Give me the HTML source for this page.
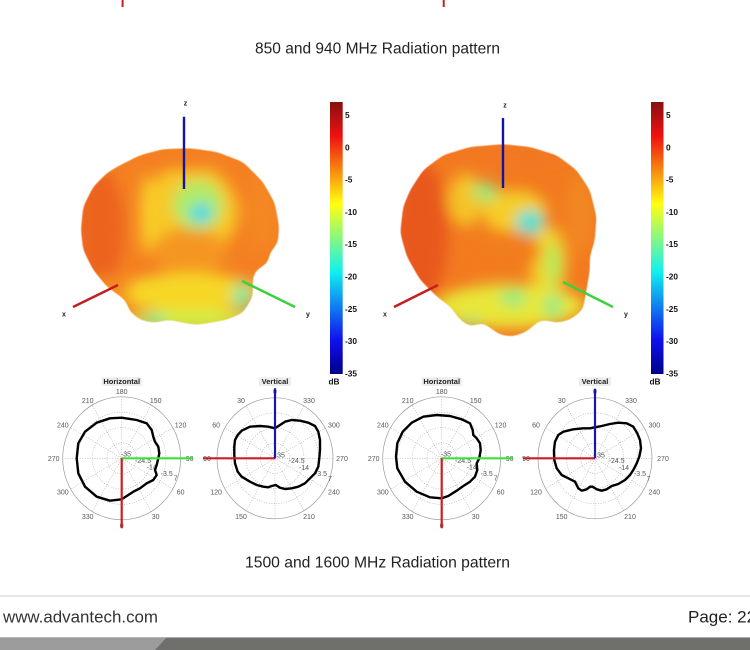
<!DOCTYPE html>
<html><head><meta charset="utf-8"><style>
html,body{margin:0;padding:0;background:#fff;}
body{width:750px;height:650px;overflow:hidden;}
svg{display:block;}
text{font-family:"Liberation Sans",Arial,sans-serif;}
.pl{font-size:7px;fill:#555;text-anchor:middle;}
.cb{font-size:8.3px;font-weight:bold;fill:#111;}
.ax{font-size:7px;font-weight:bold;fill:#222;text-anchor:middle;}
.grid{fill:none;stroke:#aaa;stroke-width:0.6;stroke-dasharray:1 1.5;}
.curve{fill:none;stroke:#000;stroke-width:2.4;stroke-linejoin:round;}
</style></head><body>
<svg width="750" height="650" viewBox="0 0 750 650" xmlns="http://www.w3.org/2000/svg">
<defs>
<linearGradient id="jet" x1="0" y1="0" x2="0" y2="1">
<stop offset="0" stop-color="#861010"/>
<stop offset="0.125" stop-color="#f01010"/>
<stop offset="0.375" stop-color="#ffff10"/>
<stop offset="0.625" stop-color="#10f0f0"/>
<stop offset="0.875" stop-color="#1010f0"/>
<stop offset="1" stop-color="#000088"/>
</linearGradient>
<filter id="bl" x="-30%" y="-30%" width="160%" height="160%"><feGaussianBlur stdDeviation="7"/></filter>
<filter id="goo" x="-10%" y="-10%" width="120%" height="120%">
<feGaussianBlur in="SourceGraphic" stdDeviation="4"/>
<feComponentTransfer><feFuncA type="linear" slope="6" intercept="-2.6"/></feComponentTransfer>
</filter>
<path id="b1" d="M106.7,173 L116.7,166.7 L140,155 L163,149 L190,148 L216.7,151.7 L243,161.7 L263,181.7 L275,203 L279.3,226.7 L278,243 L270,253 L268,263 L256.7,270 L253,277 L253,297 L243,313 L226.7,320 L210,323 L196.7,325 L183,323 L170,320 L153,323 L140,320 L130,312 L125,300 L106.7,286.7 L93,270 L83,250 L80.7,230 L83,206.7 L93,186.7 Z"/>
<path id="b2" d="M403,206.7 L410,190 L423,170 L443,155 L470,146.7 L503,144 L530,146.7 L556.7,155 L576.7,170 L590,190 L596.7,216.7 L595,240 L590,256.7 L590,270 L586.7,290 L583,310 L570,320 L556.7,323 L543,320 L536.7,323 L526.7,331.7 L513,336.7 L500,335 L490,328 L483,323 L470,326.7 L460,320 L450,306.7 L436.7,296.7 L420,280 L406.7,256.7 L400,233 Z"/>
<mask id="m1" maskUnits="userSpaceOnUse" x="0" y="0" width="750" height="650"><use href="#b1" fill="#fff" filter="url(#goo)"/></mask>
<mask id="m2" maskUnits="userSpaceOnUse" x="0" y="0" width="750" height="650"><use href="#b2" fill="#fff" filter="url(#goo)"/></mask>
</defs>

<rect x="121.6" y="0" width="2" height="7" fill="#c82020"/>
<rect x="442.7" y="0" width="2" height="7" fill="#c82020"/>

<text x="377.5" y="53.5" font-size="16" fill="#222" text-anchor="middle" textLength="245" lengthAdjust="spacingAndGlyphs">850 and 940 MHz Radiation pattern</text>

<!-- LEFT 3D -->
<g mask="url(#m1)">
<rect x="70" y="140" width="220" height="200" fill="rgb(244,128,34)"/>
<g filter="url(#bl)">
<ellipse cx="190" cy="212" rx="48" ry="46" fill="rgb(248,200,40)"/>
<ellipse cx="147" cy="215" rx="7" ry="40" fill="rgb(248,205,40)"/>
<ellipse cx="190" cy="252" rx="36" ry="25" fill="rgb(245,150,32)"/>
<ellipse cx="190" cy="293" rx="70" ry="20" fill="rgb(246,215,40)"/>
<ellipse cx="190" cy="320" rx="62" ry="10" fill="rgb(210,238,70)"/>
<ellipse cx="155" cy="320" rx="12" ry="6" fill="rgb(130,235,150)"/>
<ellipse cx="242" cy="296" rx="9" ry="14" fill="rgb(130,230,160)"/>
<ellipse cx="198" cy="205" rx="25" ry="25" fill="rgb(175,235,105)"/>
<ellipse cx="201" cy="213" rx="11" ry="9" fill="rgb(40,215,240)"/>
<ellipse cx="263" cy="212" rx="16" ry="38" fill="rgb(244,135,34)"/>
<ellipse cx="100" cy="228" rx="24" ry="58" fill="rgb(236,100,30)"/>
<ellipse cx="180" cy="158" rx="72" ry="13" fill="rgb(244,128,34)"/>
<ellipse cx="110" cy="290" rx="20" ry="14" fill="rgb(244,140,34)"/>
</g>
</g>
<line x1="184" y1="116.7" x2="184" y2="189" stroke="#14149c" stroke-width="2.4"/>
<line x1="73" y1="307" x2="118" y2="285" stroke="#c41e1e" stroke-width="2.4"/>
<line x1="242" y1="281" x2="295" y2="307" stroke="#3cd03c" stroke-width="2.4"/>
<text class="ax" x="185.5" y="105.5">z</text>
<text class="ax" x="64" y="316.5">x</text>
<text class="ax" x="308" y="316.5">y</text>
<rect x="330" y="102" width="12.7" height="272" fill="url(#jet)"/>
<text class="cb" x="345" y="118">5</text>
<text class="cb" x="345" y="150.3">0</text>
<text class="cb" x="345" y="182.6">-5</text>
<text class="cb" x="345" y="214.9">-10</text>
<text class="cb" x="345" y="247.2">-15</text>
<text class="cb" x="345" y="279.5">-20</text>
<text class="cb" x="345" y="311.8">-25</text>
<text class="cb" x="345" y="344.1">-30</text>
<text class="cb" x="345" y="376.4">-35</text>
<text class="cb" x="334" y="384.5" text-anchor="middle">dB</text>

<!-- RIGHT 3D -->
<g mask="url(#m2)">
<rect x="390" y="135" width="220" height="210" fill="rgb(242,122,32)"/>
<g filter="url(#bl)">
<ellipse cx="466" cy="200" rx="18" ry="26" fill="rgb(246,195,40)"/>
<ellipse cx="515" cy="212" rx="32" ry="22" fill="rgb(246,205,40)"/>
<ellipse cx="548" cy="262" rx="18" ry="36" fill="rgb(246,210,40)"/>
<ellipse cx="500" cy="252" rx="40" ry="22" fill="rgb(242,125,30)"/>
<ellipse cx="510" cy="306" rx="74" ry="22" fill="rgb(232,230,55)"/>
<ellipse cx="513" cy="298" rx="13" ry="8" fill="rgb(140,235,130)"/>
<ellipse cx="470" cy="323" rx="10" ry="5" fill="rgb(150,235,130)"/>
<ellipse cx="553" cy="306" rx="9" ry="13" fill="rgb(150,235,130)"/>
<ellipse cx="485" cy="192" rx="13" ry="9" fill="rgb(150,235,120)"/>
<ellipse cx="530" cy="222" rx="14" ry="12" fill="rgb(70,225,215)"/>
<ellipse cx="553" cy="264" rx="8" ry="22" fill="rgb(180,235,90)"/>
<ellipse cx="420" cy="232" rx="28" ry="72" fill="rgb(232,88,28)"/>
<ellipse cx="500" cy="155" rx="70" ry="11" fill="rgb(242,120,32)"/>
<ellipse cx="580" cy="215" rx="14" ry="40" fill="rgb(242,135,32)"/>
</g>
</g>
<line x1="503" y1="118" x2="503" y2="188" stroke="#14149c" stroke-width="2.4"/>
<line x1="394" y1="307" x2="438" y2="285" stroke="#c41e1e" stroke-width="2.4"/>
<line x1="563" y1="282" x2="613" y2="307" stroke="#3cd03c" stroke-width="2.4"/>
<text class="ax" x="505" y="107.5">z</text>
<text class="ax" x="385" y="316.5">x</text>
<text class="ax" x="626" y="316.5">y</text>
<rect x="651" y="102" width="12.5" height="272" fill="url(#jet)"/>
<text class="cb" x="666" y="118">5</text>
<text class="cb" x="666" y="150.3">0</text>
<text class="cb" x="666" y="182.6">-5</text>
<text class="cb" x="666" y="214.9">-10</text>
<text class="cb" x="666" y="247.2">-15</text>
<text class="cb" x="666" y="279.5">-20</text>
<text class="cb" x="666" y="311.8">-25</text>
<text class="cb" x="666" y="344.1">-30</text>
<text class="cb" x="666" y="376.4">-35</text>
<text class="cb" x="655" y="384.5" text-anchor="middle">dB</text>

<!-- POLAR: left horizontal -->
<g transform="translate(121.7,458.3)">
<rect x="-20" y="-81" width="40" height="8.6" fill="#ececec"/>
<text x="0" y="-74.5" font-size="7.5" font-weight="bold" fill="#222" text-anchor="middle">Horizontal</text>
<ellipse cx="0" cy="0" rx="59" ry="61.5" fill="none" stroke="#999" stroke-width="0.7"/>
<ellipse class="grid" cx="0" cy="0" rx="14.75" ry="15.4"/>
<ellipse class="grid" cx="0" cy="0" rx="29.5" ry="30.75"/>
<ellipse class="grid" cx="0" cy="0" rx="44.25" ry="46.1"/>
<path class="grid" d="M0,-61.5L0,61.5M29.5,-53.3L-29.5,53.3M51.1,-30.75L-51.1,30.75M59,0L-59,0M51.1,30.75L-51.1,-30.75M29.5,53.3L-29.5,-53.3"/>
<text class="pl" x="0" y="-64.5">180</text>
<text class="pl" x="34" y="-55.5">150</text>
<text class="pl" x="58.9" y="-31">120</text>
<text class="pl" x="68" y="2.5">90</text>
<text class="pl" x="58.9" y="36">60</text>
<text class="pl" x="34" y="60.5">30</text>
<text class="pl" x="0" y="69.5">0</text>
<text class="pl" x="-34" y="60.5">330</text>
<text class="pl" x="-58.9" y="36">300</text>
<text class="pl" x="-68" y="2.5">270</text>
<text class="pl" x="-58.9" y="-31">240</text>
<text class="pl" x="-34" y="-55.5">210</text>
<text class="pl" x="4.3" y="-1.8">-35</text>
<text class="pl" x="21.3" y="4.9">-24.5</text>
<text class="pl" x="30" y="11.2">-14</text>
<text class="pl" x="45" y="17.5">-3.5</text>
<text class="pl" x="54" y="22.2">7</text>
<path class="curve" d="M0,41 L-11.7,42.4 L-25,38.4 L-36.7,28.4 L-43.4,15 L-45,0 L-43.4,-15 L-36.7,-26.6 L-25,-35.6 L-11.7,-40 L0,-40.6 L15,-38.3 L25,-35 L30,-28.3 L31.6,-21.6 L33.3,-16.6 L36.6,-11.6 L37.6,-5 L36.6,0 L35,6.7 L33.3,11.7 L35,16.7 L31.6,21.7 L25,25 L18.3,30 L11.6,33.4 L5,37.7 Z"/>
<line x1="0" y1="0" x2="71" y2="0" stroke="#3ce03c" stroke-width="2.2"/>
<line x1="0" y1="0" x2="0" y2="70" stroke="#c82020" stroke-width="2.2"/>
</g>

<!-- left vertical -->
<g transform="translate(275,458.3)">
<rect x="-16" y="-81" width="32" height="8.6" fill="#ececec"/>
<text x="0" y="-74.5" font-size="7.5" font-weight="bold" fill="#222" text-anchor="middle">Vertical</text>
<ellipse cx="0" cy="0" rx="58" ry="60.5" fill="none" stroke="#999" stroke-width="0.7"/>
<ellipse class="grid" cx="0" cy="0" rx="14.5" ry="15.1"/>
<ellipse class="grid" cx="0" cy="0" rx="29" ry="30.25"/>
<ellipse class="grid" cx="0" cy="0" rx="43.5" ry="45.4"/>
<path class="grid" d="M0,-60.5L0,60.5M29,-52.4L-29,52.4M50.2,-30.25L-50.2,30.25M58,0L-58,0M50.2,30.25L-50.2,-30.25M29,52.4L-29,-52.4"/>
<text class="pl" x="0" y="-64.5">0</text>
<text class="pl" x="34" y="-55.5">330</text>
<text class="pl" x="58.9" y="-31">300</text>
<text class="pl" x="67" y="2.5">270</text>
<text class="pl" x="58.9" y="36">240</text>
<text class="pl" x="34" y="60.5">210</text>
<text class="pl" x="-34" y="60.5">150</text>
<text class="pl" x="-58.9" y="36">120</text>
<text class="pl" x="-68" y="2.5">90</text>
<text class="pl" x="-58.9" y="-31">60</text>
<text class="pl" x="-34" y="-55.5">30</text>
<text class="pl" x="6" y="-1">35</text>
<text class="pl" x="21.7" y="4.9">-24.5</text>
<text class="pl" x="29" y="11.5">-14</text>
<text class="pl" x="46" y="17.5">-3.5</text>
<text class="pl" x="55" y="22.5">7</text>
<path class="curve" d="M0,-30 L5,-33.3 L10,-36.6 L16.7,-38.3 L25,-37.6 L33.3,-35.6 L40,-32.3 L43.3,-26.6 L45,-18.3 L45,-8.3 L44.3,0 L43.3,8.4 L40,15 L35,20 L30,25 L23.3,28.4 L16.7,30 L10,30.7 L5,29.4 L0.7,26.7 L-3.3,27.7 L-6.7,29 L-11.7,28.4 L-18.3,26.7 L-25,23.4 L-33.3,18.4 L-37.3,13.4 L-40,5 L-40.7,-3.3 L-40.7,-11.6 L-40,-18.3 L-37.3,-23.3 L-33.3,-27.6 L-25,-31.6 L-15,-32.3 L-6.7,-31.6 Z"/>
<line x1="0" y1="0" x2="-72" y2="0" stroke="#c82020" stroke-width="2.2"/>
<line x1="0" y1="0" x2="0" y2="-70" stroke="#1818a8" stroke-width="2.2"/>
</g>

<!-- right horizontal -->
<g transform="translate(441.7,458.3)">
<rect x="-20" y="-81" width="40" height="8.6" fill="#ececec"/>
<text x="0" y="-74.5" font-size="7.5" font-weight="bold" fill="#222" text-anchor="middle">Horizontal</text>
<ellipse cx="0" cy="0" rx="59" ry="61.5" fill="none" stroke="#999" stroke-width="0.7"/>
<ellipse class="grid" cx="0" cy="0" rx="14.75" ry="15.4"/>
<ellipse class="grid" cx="0" cy="0" rx="29.5" ry="30.75"/>
<ellipse class="grid" cx="0" cy="0" rx="44.25" ry="46.1"/>
<path class="grid" d="M0,-61.5L0,61.5M29.5,-53.3L-29.5,53.3M51.1,-30.75L-51.1,30.75M59,0L-59,0M51.1,30.75L-51.1,-30.75M29.5,53.3L-29.5,-53.3"/>
<text class="pl" x="0" y="-64.5">180</text>
<text class="pl" x="34" y="-55.5">150</text>
<text class="pl" x="58.9" y="-31">120</text>
<text class="pl" x="68" y="2.5">90</text>
<text class="pl" x="58.9" y="36">60</text>
<text class="pl" x="34" y="60.5">30</text>
<text class="pl" x="0" y="69.5">0</text>
<text class="pl" x="-34" y="60.5">330</text>
<text class="pl" x="-58.9" y="36">300</text>
<text class="pl" x="-68" y="2.5">270</text>
<text class="pl" x="-58.9" y="-31">240</text>
<text class="pl" x="-34" y="-55.5">210</text>
<text class="pl" x="4.3" y="-1.8">-35</text>
<text class="pl" x="21.3" y="4.9">-24.5</text>
<text class="pl" x="30" y="11.2">-14</text>
<text class="pl" x="45" y="17.5">-3.5</text>
<text class="pl" x="54" y="22.2">7</text>
<path class="curve" d="M0,40 L-11.7,39 L-25,33.4 L-36.7,23.4 L-44.4,10 L-45.7,-1.6 L-44.4,-15 L-39,-26.6 L-30,-35.6 L-18.4,-41.6 L-5,-43.3 L8.3,-42.3 L20,-39 L28.3,-35 L31,-28.3 L31.6,-23.3 L35,-20 L38.3,-15 L39,-8.3 L37.6,0 L35,5 L35.6,11.7 L33.3,18.4 L28.3,23.4 L21.6,27.7 L15,32.4 L6.6,37.7 Z"/>
<line x1="0" y1="0" x2="71" y2="0" stroke="#3ce03c" stroke-width="2.2"/>
<line x1="0" y1="0" x2="0" y2="70" stroke="#c82020" stroke-width="2.2"/>
</g>

<!-- right vertical -->
<g transform="translate(595,458.3)">
<rect x="-16" y="-81" width="32" height="8.6" fill="#ececec"/>
<text x="0" y="-74.5" font-size="7.5" font-weight="bold" fill="#222" text-anchor="middle">Vertical</text>
<ellipse cx="0" cy="0" rx="57" ry="60.5" fill="none" stroke="#999" stroke-width="0.7"/>
<ellipse class="grid" cx="0" cy="0" rx="14.25" ry="15.1"/>
<ellipse class="grid" cx="0" cy="0" rx="28.5" ry="30.25"/>
<ellipse class="grid" cx="0" cy="0" rx="42.75" ry="45.4"/>
<path class="grid" d="M0,-60.5L0,60.5M28.5,-52.4L-28.5,52.4M49.4,-30.25L-49.4,30.25M57,0L-57,0M49.4,30.25L-49.4,-30.25M28.5,52.4L-28.5,-52.4"/>
<text class="pl" x="0" y="-64.5">0</text>
<text class="pl" x="36" y="-55.5">330</text>
<text class="pl" x="59.3" y="-31">300</text>
<text class="pl" x="68" y="2.5">270</text>
<text class="pl" x="59.3" y="36">240</text>
<text class="pl" x="35" y="60.5">210</text>
<text class="pl" x="-33.3" y="60.5">150</text>
<text class="pl" x="-59" y="36">120</text>
<text class="pl" x="-69" y="2.5">90</text>
<text class="pl" x="-59" y="-31">60</text>
<text class="pl" x="-33.3" y="-55.5">30</text>
<text class="pl" x="6" y="-1">35</text>
<text class="pl" x="21.7" y="4.9">-24.5</text>
<text class="pl" x="29" y="11.5">-14</text>
<text class="pl" x="45" y="17.5">-3.5</text>
<text class="pl" x="53.5" y="22.5">7</text>
<path class="curve" d="M0,-31 L6.7,-32.3 L15,-34.3 L23.3,-35.6 L31.7,-35 L38.3,-31.6 L42.3,-25 L45,-18.3 L46,-10 L44.3,-1.6 L41.7,5 L38.3,11.7 L35,16.7 L30,21.7 L23.3,25.7 L16.7,27.7 L11.7,31 L6.7,32.4 L1.7,31 L-2.3,28.4 L-5,28.4 L-8.3,31 L-13.3,32.4 L-16.7,30 L-20,23.4 L-26.7,20 L-33.3,16.7 L-38.3,10 L-40.7,1.7 L-41,-8.3 L-40,-16.6 L-36.7,-23.3 L-31.7,-26.6 L-21.7,-29 L-11.7,-30 L-5,-30 Z"/>
<line x1="0" y1="0" x2="-72" y2="0" stroke="#c82020" stroke-width="2.2"/>
<line x1="0" y1="0" x2="0" y2="-69.5" stroke="#1818a8" stroke-width="2.2"/>
</g>

<text x="377.5" y="567.5" font-size="16" fill="#222" text-anchor="middle" textLength="265" lengthAdjust="spacingAndGlyphs">1500 and 1600 MHz Radiation pattern</text>

<rect x="0" y="595" width="750" height="2" fill="#e6e6e6"/>
<text x="3" y="622.5" font-size="17" fill="#333" textLength="155" lengthAdjust="spacingAndGlyphs">www.advantech.com</text>
<text x="688" y="622.5" font-size="17" fill="#222">Page: 22</text>
<rect x="0" y="637" width="750" height="13" fill="#6f6f6b"/>
<polygon points="0,637 167,637 155,650 0,650" fill="#9c9c9c"/>
<rect x="0" y="637" width="750" height="0.8" fill="#bdbdbd"/>
</svg>
</body></html>
